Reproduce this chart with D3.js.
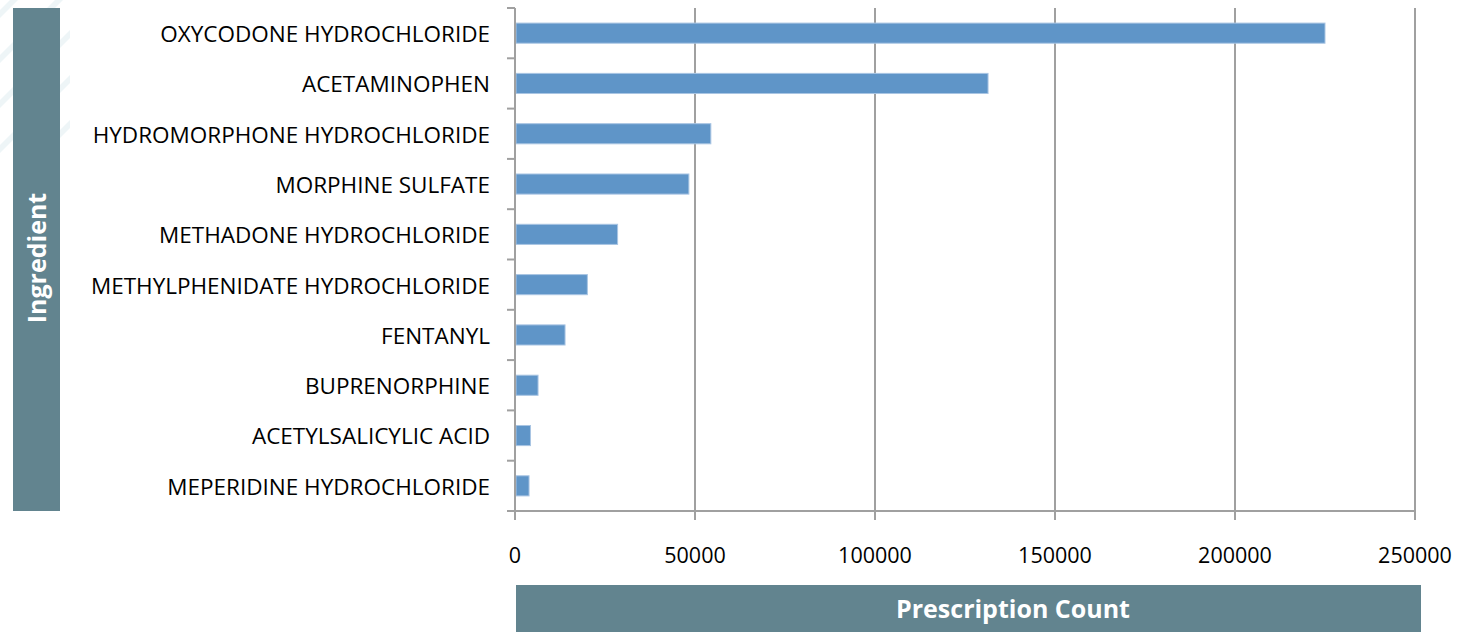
<!DOCTYPE html>
<html><head><meta charset="utf-8">
<script src="https://cdn.jsdelivr.net/npm/d3@7"></script>
<style>body{margin:0;background:#fff;} svg{display:block;}</style>
</head><body>
<script>
const categories = ["OXYCODONE HYDROCHLORIDE","ACETAMINOPHEN","HYDROMORPHONE HYDROCHLORIDE","MORPHINE SULFATE","METHADONE HYDROCHLORIDE","METHYLPHENIDATE HYDROCHLORIDE","FENTANYL","BUPRENORPHINE","ACETYLSALICYLIC ACID","MEPERIDINE HYDROCHLORIDE"];
const values = [225000, 131400, 54400, 48300, 28500, 20100, 13900, 6400, 4300, 3900];
const xTicks = [0, 50000, 100000, 150000, 200000, 250000];
const yTitle = "Ingredient";
const xTitle = "Prescription Count";

const W = 1466, H = 632;
const svg = d3.select("body").append("svg").attr("width", W).attr("height", H);
const font = "'Open Sans', sans-serif";

// faint decorative stripes top-left
const defs = svg.append("defs");
defs.append("clipPath").attr("id","stripeClip").append("rect").attr("x",0).attr("y",0).attr("width",70).attr("height",175);
const sg = svg.append("g").attr("clip-path","url(#stripeClip)");
[0, 45, 90, 135, 180].forEach(o => {
  sg.append("path").attr("d", `M${-10},${o+20} L${o+30},${-20} L${o+38},${-20} L${-10},${o+28} Z`)
    .attr("fill","#eef5f7");
});

const m = {left:515, right:1415, top:8, bottom:511};
const x = d3.scaleLinear().domain([0, 250000]).range([m.left, m.right]);
const y = d3.scaleBand().domain(categories).range([m.top, m.bottom]).paddingInner(0.6).paddingOuter(0.3);
const yTicks = d3.scaleBand().domain(categories).range([m.top, m.bottom]);

// gridlines
svg.append("g").selectAll("line").data(xTicks.slice(1)).join("line")
  .attr("x1", d=>x(d)).attr("x2", d=>x(d)).attr("y1", m.top).attr("y2", m.bottom)
  .attr("stroke","#a0a0a0").attr("stroke-width",2);

// bars
svg.append("g").selectAll("rect").data(values).join("rect")
  .attr("x", x(0)+1).attr("y", (d,i)=>y(categories[i]))
  .attr("width", d=>x(d)-x(0)-1).attr("height", y.bandwidth())
  .attr("fill","#5f95c8").attr("stroke","#a9c5e3").attr("stroke-width",1);

// y axis
const ya = svg.append("g");
ya.append("line").attr("x1",m.left).attr("x2",m.left).attr("y1",m.top).attr("y2",m.bottom+9).attr("stroke","#a0a0a0").attr("stroke-width",2);
const bounds = categories.map(c=>yTicks(c)).concat([m.bottom]);
ya.selectAll("line.t").data(bounds).join("line").attr("class","t")
  .attr("x1",m.left-8).attr("x2",m.left).attr("y1",d=>d).attr("y2",d=>d)
  .attr("stroke","#a0a0a0").attr("stroke-width",2);
ya.selectAll("text").data(categories).join("text")
  .attr("x", 490).attr("y", d=>yTicks(d)+yTicks.bandwidth()/2+1)
  .attr("dy","0.35em").attr("text-anchor","end")
  .attr("font-family",font).attr("font-size",22.5).attr("fill","#000").text(d=>d);

// x axis
const xa = svg.append("g");
xa.append("line").attr("x1",m.left-8).attr("x2",m.right).attr("y1",m.bottom).attr("y2",m.bottom).attr("stroke","#a0a0a0").attr("stroke-width",2);
xa.selectAll("line.t").data(xTicks).join("line").attr("class","t")
  .attr("x1",d=>x(d)).attr("x2",d=>x(d)).attr("y1",m.bottom).attr("y2",m.bottom+9)
  .attr("stroke","#a0a0a0").attr("stroke-width",2);
xa.selectAll("text").data(xTicks).join("text")
  .attr("x", d=>x(d)).attr("y", 555).attr("dy","0.35em").attr("text-anchor","middle")
  .attr("font-family",font).attr("font-size",21.5).attr("fill","#000").text(d=>d);

// y title box
svg.append("rect").attr("x",13).attr("y",8).attr("width",47).attr("height",503).attr("fill","#62848f");
svg.append("text").attr("transform","translate(37,258) rotate(-90)")
  .attr("text-anchor","middle").attr("dy","0.35em")
  .attr("font-family",font).attr("font-weight","bold").attr("font-size",25).attr("fill","#fff").text(yTitle);

// x title box
svg.append("rect").attr("x",516).attr("y",585).attr("width",905).attr("height",47).attr("fill","#62848f");
svg.append("text").attr("x",1013).attr("y",609).attr("dy","0.35em").attr("text-anchor","middle")
  .attr("font-family",font).attr("font-weight","bold").attr("font-size",25).attr("fill","#fff").text(xTitle);
</script>
</body></html>
